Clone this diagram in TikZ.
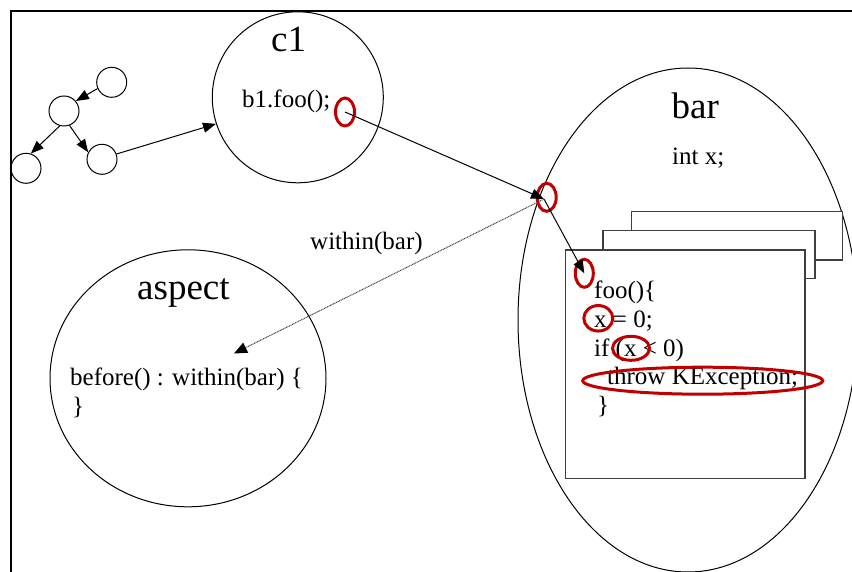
\documentclass[tikz,border=0pt]{standalone}
\usepackage{fontspec}
\setmainfont{Liberation Serif}
\usetikzlibrary{arrows.meta,shapes.geometric}
\definecolor{hl}{HTML}{C00000}
\definecolor{boxline}{HTML}{404040}
\tikzset{
  smallc/.style={circle, draw, minimum size=30pt, inner sep=0pt, line width=1pt},
  bigshape/.style={ellipse, draw, inner sep=0pt, line width=1pt},
  arr/.style={-{Triangle[length=13pt,width=10pt]}, line width=1pt},
  dotarr/.style={-{Triangle[length=13pt,width=11pt,fill=black,color=black]}, line width=1pt, draw=black!75, dash pattern=on 1pt off 0.7pt},
  hlring/.style={ellipse, draw=hl, line width=3pt, inner sep=0pt},
  codebox/.style={rectangle, draw=boxline, fill=white, line width=1.3pt, inner sep=0pt},
  code/.style={font=\fontsize{25}{29}\selectfont, inner sep=0pt, anchor=base west},
  ttl/.style={font=\fontsize{37}{40}\selectfont, inner sep=0pt, anchor=base west},
}
\begin{document}
\begin{tikzpicture}[x=1pt,y=-1pt]
\useasboundingbox (0,0) rectangle (852,572);
% frame
\draw[line width=2.2pt] (11,572) -- (11,11) -- (852,11);

% small graph
\node[smallc] (n1) at (111.7,82.3) {};
\node[smallc] (n2) at (64,111) {};
\node[smallc] (n3) at (26,168.3) {};
\node[smallc] (n4) at (102,159.3) {};

% big shapes
\node[bigshape, minimum width=171pt, minimum height=171pt] (c1) at (297.8,97.3) {};
\node[bigshape, minimum width=340pt, minimum height=504pt] (bar) at (688,320) {};
\node[bigshape, minimum width=276pt, minimum height=257pt] (aspect) at (188,378.3) {};

% stacked boxes
\node[codebox, minimum width=211pt, minimum height=48.3pt] (box3) at (737.2,235.8) {};
\node[codebox, minimum width=212pt, minimum height=48pt] (box2) at (709,254.7) {};
\node[codebox, minimum width=239.5pt, minimum height=228.7pt] (box1) at (685.3,364.3) {};

% texts
\node[ttl] (c1t) at (271,51.7) {c1};
\node[code] (c1code) at (242,107.7) {b1.foo();};
\node[ttl] (bart) at (671.5,118.3) {bar};
\node[code] (barx) at (672,164.3) {int x;};
\node[ttl] (aspt) at (137,299.3) {aspect};
\node[code] (asp1) at (70,385) {before() : within(bar) \{};
\node[code] (asp2) at (72,414) {\}};
\node[code] (wlab) at (310,250) {within(bar)};
\node[code] (f1) at (594,299) {foo()\{};
\node[code] (f2) at (594,327.5) {x = 0;};
\node[code] (f3) at (594,356) {if (x < 0)};
\node[code] (f4) at (607,384.5) {throw KException;};
\node[code] (f5) at (597,413) {\}};

% highlight rings
\node[hlring, minimum width=19pt, minimum height=28pt] (r1) at (345,112) {};
\node[hlring, minimum width=19pt, minimum height=28pt] (r2) at (546.7,197.3) {};
\node[hlring, minimum width=18pt, minimum height=28pt] (r3) at (584.3,273.3) {};
\node[hlring, minimum width=29pt, minimum height=25.5pt] (r4) at (598.3,318.3) {};
\node[hlring, minimum width=37pt, minimum height=24pt] (r5) at (631,348.3) {};
\node[hlring, minimum width=240pt, minimum height=27pt] (r6) at (702.7,380.7) {};

% graph arrows
\draw[arr] (n1.204) -- (n2.40);
\draw[arr] (n2.254) -- (n3.72);
\draw[arr] (n2.291) -- (n4.153);
\draw[arr] (n4.20) -- (c1.198);

% call arrows
\coordinate (jp) at (544,199);
\coordinate (aspin) at (234,353.5);
\draw[arr] (r1.center) -- (jp);
\draw[arr] (jp) -- (r3.center);
\draw[dotarr] (jp) -- (aspin);
\end{tikzpicture}
\end{document}
